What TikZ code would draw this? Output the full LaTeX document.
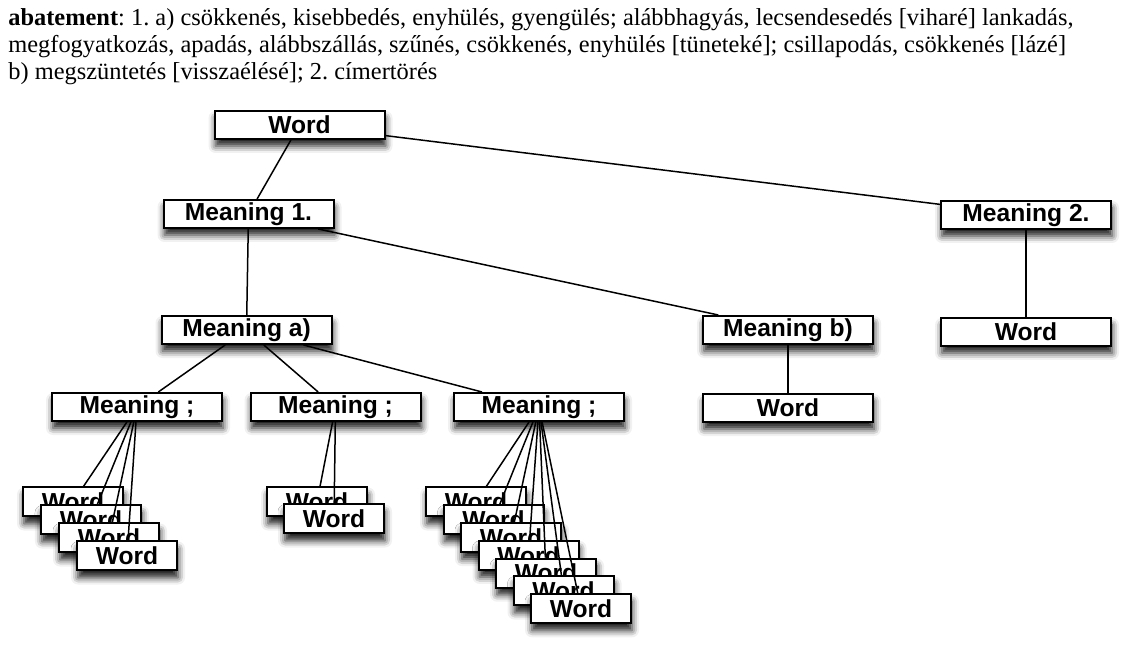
\documentclass[tikz,border=0pt]{standalone}
\usepackage{fontspec}
\setmainfont{Liberation Serif}
\setsansfont{Liberation Sans}
\usetikzlibrary{shadows.blur}
\tikzset{
  mbox/.style={draw, fill=white, line width=1pt, minimum width=85pt, minimum height=14pt, inner sep=0pt,
    font=\sffamily\bfseries\fontsize{12.3}{12.5}\selectfont,
    blur shadow={shadow xshift=0.5pt, shadow yshift=-3.5pt, shadow blur radius=3.5pt, shadow opacity=90}},
  wbox/.style={mbox, minimum width=50pt, minimum height=14.5pt},
  link/.style={line width=0.75pt}
}
\begin{document}
\frenchspacing
\begin{tikzpicture}[x=0.5pt,y=-0.5pt]
\useasboundingbox (0,0) rectangle (1130,651);
% dictionary entry
\node[anchor=north west, align=left, inner sep=0pt, font=\fontsize{12.2}{13.5}\selectfont] (entry) at (8,8)
  {\textbf{abatement}: 1. a) csökkenés, kisebbedés, enyhülés, gyengülés; alábbhagyás, lecsendesedés [viharé] lankadás,\\
   megfogyatkozás, apadás, alábbszállás, szűnés, csökkenés, enyhülés [tüneteké]; csillapodás, csökkenés [lázé]\\
   b) megszüntetés [visszaélésé]; 2. címertörés};
% tree
\node[mbox] (w0) at (299.5,125) {Word};
\node[mbox] (m1) at (248.5,214) {Meaning 1.};
\node[mbox] (m2) at (1026,215) {Meaning 2.};
\node[mbox] (ma) at (246.5,330) {Meaning a)};
\node[mbox] (mb) at (788,330) {Meaning b)};
\node[mbox] (w2) at (1026,332) {Word};
\node[mbox] (ms1) at (137,407) {Meaning ;};
\node[mbox] (ms2) at (335.5,407) {Meaning ;};
\node[mbox] (ms3) at (539,407) {Meaning ;};
\node[mbox] (wb) at (788,408) {Word};
\foreach \i in {1,...,4}
  \node[wbox] (sa\i) at ({73+18*(\i-1)},{502+18*(\i-1)}) {Word};
\foreach \i in {1,2}
  \node[wbox] (sb\i) at ({317+17*(\i-1)},{502+17*(\i-1)}) {Word};
\foreach \i in {1,...,7}
  \node[wbox] (sc\i) at ({476+17.5*(\i-1)},{502+17.8*(\i-1)}) {Word};
\draw[link] (w0) -- (m1); \draw[link] (w0) -- (m2);
\draw[link] (m1) -- (ma); \draw[link] (m1) -- (mb);
\draw[link] (m2) -- (w2); \draw[link] (mb) -- (wb);
\draw[link] (ma) -- (ms1); \draw[link] (ma) -- (ms2); \draw[link] (ma) -- (ms3);
\foreach \i in {1,...,4} \draw[link] (ms1) -- (sa\i);
\foreach \i in {1,2} \draw[link] (ms2) -- (sb\i);
\foreach \i in {1,...,7} \draw[link] (ms3) -- (sc\i);
\end{tikzpicture}
\end{document}
